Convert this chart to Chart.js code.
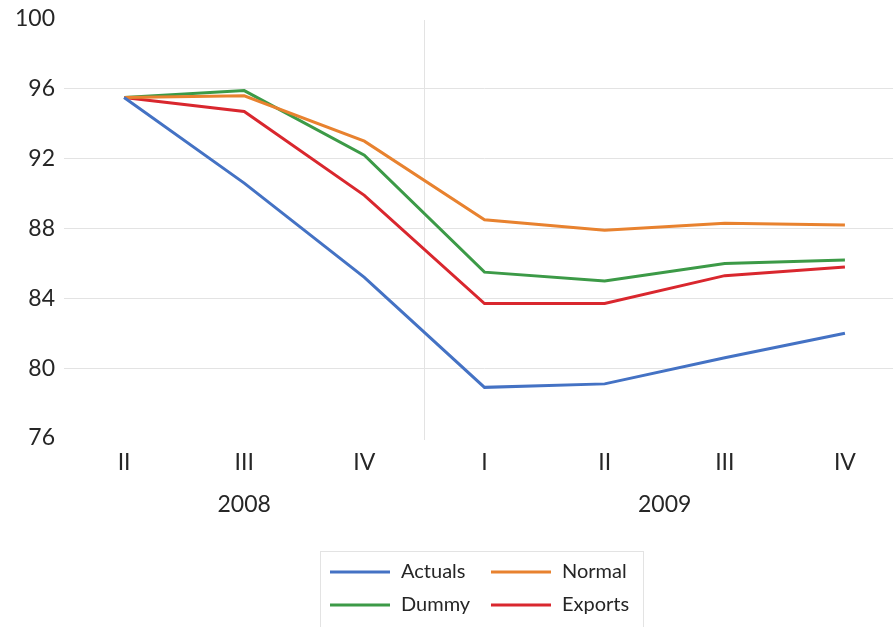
<!DOCTYPE html>
<html>
<head>
<meta charset="utf-8">
<script src="https://cdn.jsdelivr.net/npm/chart.js@4/dist/chart.umd.min.js"></script>
<style>
  html, body { margin: 0; padding: 0; background: #fff; overflow: hidden; }
  #wrap { width: 905px; height: 627px; }
</style>
</head>
<body>
<div id="wrap"><canvas id="c" width="905" height="627"></canvas></div>
<script>
// Quarters and the year each quarter belongs to
const quarters = ['II', 'III', 'IV', 'I', 'II', 'III', 'IV'];
const years = [
  { label: '2008', from: 0, to: 2 },
  { label: '2009', from: 3, to: 6 }
];

// Index series
const actuals = [95.5, 90.6, 85.2, 78.9, 79.1, 80.6, 82.0];
const normal  = [95.5, 95.6, 93.0, 88.5, 87.9, 88.3, 88.2];
const dummy   = [95.5, 95.9, 92.2, 85.5, 85.0, 86.0, 86.2];
const exports = [95.5, 94.7, 89.9, 83.7, 83.7, 85.3, 85.8];

// Y axis ticks
const yMin = 76, yMax = 100, yStep = 4;

const FONT = 'Lato, "Open Sans", sans-serif';
const TEXT = '#262626';

// Year row, group separator and boxed legend
const decorations = {
  id: 'decorations',
  beforeDatasetsDraw(chart) {
    const { ctx, chartArea, scales } = chart;
    const x = scales.x;
    // separator between the two year groups
    const sepX = (x.getPixelForValue(2) + x.getPixelForValue(3)) / 2;
    ctx.save();
    ctx.strokeStyle = '#e3e3e3';
    ctx.lineWidth = 1;
    ctx.beginPath();
    ctx.moveTo(Math.round(sepX) + 0.5, chartArea.top + 1);
    ctx.lineTo(Math.round(sepX) + 0.5, chartArea.bottom + 2);
    ctx.stroke();
    ctx.restore();
  },
  afterDraw(chart) {
    const { ctx, scales } = chart;
    const x = scales.x;
    const half = (x.getPixelForValue(1) - x.getPixelForValue(0)) / 2;
    ctx.save();
    ctx.fillStyle = TEXT;
    ctx.font = '23px ' + FONT;
    ctx.textAlign = 'center';
    ctx.textBaseline = 'middle';
    years.forEach(y => {
      const left = x.getPixelForValue(y.from) - half;
      const right = x.getPixelForValue(y.to) + half;
      ctx.fillText(y.label, (left + right) / 2, 505);
    });

    // legend box
    ctx.strokeStyle = '#e3e3e3';
    ctx.lineWidth = 1;
    ctx.strokeRect(320.5, 551.5, 323, 90);
    const cols = [330, 491];
    const rows = [572, 605];
    ctx.textAlign = 'left';
    ctx.font = '20px ' + FONT;
    chart.data.datasets.forEach((ds, i) => {
      const cx = cols[i % 2];
      const cy = rows[Math.floor(i / 2)];
      ctx.strokeStyle = ds.borderColor;
      ctx.lineWidth = 3;
      ctx.beginPath();
      ctx.moveTo(cx, cy);
      ctx.lineTo(cx + 60, cy);
      ctx.stroke();
      ctx.fillStyle = TEXT;
      ctx.fillText(ds.label, cx + 71, cy);
    });
    ctx.restore();
  }
};

const line = (label, data, color) => ({
  label, data,
  borderColor: color,
  backgroundColor: color,
  borderWidth: 3,
  pointRadius: 0,
  tension: 0,
  fill: false
});

new Chart(document.getElementById('c'), {
  type: 'line',
  data: {
    labels: quarters,
    datasets: [
      line('Actuals', actuals, '#4472C4'),
      line('Normal', normal, '#E8822F'),
      line('Dummy', dummy, '#3C9A47'),
      line('Exports', exports, '#D9272E')
    ]
  },
  options: {
    responsive: false,
    animation: false,
    layout: { padding: { top: 19, left: 0, right: 0, bottom: 0 } },
    plugins: { legend: { display: false }, tooltip: { enabled: false } },
    scales: {
      x: {
        offset: true,
        grid: { display: false, drawTicks: false },
        border: { display: false },
        ticks: { color: TEXT, font: { family: FONT, size: 23 }, padding: 11, maxRotation: 0, autoSkip: false },
        afterFit(s) { s.height = 189; }
      },
      y: {
        min: yMin, max: yMax,
        grid: {
          drawTicks: false,
          color: c => (c.tick && (c.tick.value === yMin || c.tick.value === yMax)) ? 'rgba(0,0,0,0)' : '#e3e3e3',
          lineWidth: 1
        },
        border: { display: false },
        ticks: { stepSize: yStep, color: TEXT, font: { family: FONT, size: 23 }, padding: 9 },
        afterFit(s) { s.width = 64; s.paddingTop = 0; s.paddingBottom = 0; }
      }
    }
  },
  plugins: [decorations]
});
</script>
</body>
</html>
